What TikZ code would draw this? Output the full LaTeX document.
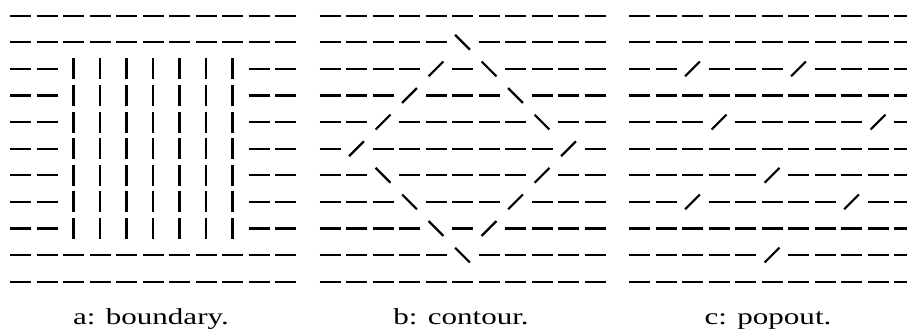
\documentclass[tikz,border=0pt]{standalone}
\usepackage{fontspec}
\setmainfont{Liberation Serif}

% one panel of short bars: #1 = x offset, #2 = rows of bar angles
\newcommand{\texturegrid}[2]{%
  \foreach \cells [count=\r from 0] in {#2} {
    \foreach \ang [count=\c from 0] in \cells {
      \draw[bar, shift={({#1+20.5+26.5*\c},{317.3-26.6*\r})}]
        (180+\ang:10.5) -- (\ang:10.5);
    }
  }}

\begin{document}
\begin{tikzpicture}[x=1pt, y=1pt,
  bar/.style={line width=2.2pt},
  caption/.style={anchor=base, xscale=1.35, font=\fontsize{23}{27}\selectfont}]
\useasboundingbox (0,0) rectangle (907,333);

% a: boundary
\texturegrid{0}{
  {0,0,0,0,0,0,0,0,0,0,0},
  {0,0,0,0,0,0,0,0,0,0,0},
  {0,0,90,90,90,90,90,90,90,0,0},
  {0,0,90,90,90,90,90,90,90,0,0},
  {0,0,90,90,90,90,90,90,90,0,0},
  {0,0,90,90,90,90,90,90,90,0,0},
  {0,0,90,90,90,90,90,90,90,0,0},
  {0,0,90,90,90,90,90,90,90,0,0},
  {0,0,90,90,90,90,90,90,90,0,0},
  {0,0,0,0,0,0,0,0,0,0,0},
  {0,0,0,0,0,0,0,0,0,0,0}}

% b: contour
\texturegrid{309.5}{
  {0,0,0,0,0,0,0,0,0,0,0},
  {0,0,0,0,0,135,0,0,0,0,0},
  {0,0,0,0,45,0,135,0,0,0,0},
  {0,0,0,45,0,0,0,135,0,0,0},
  {0,0,45,0,0,0,0,0,135,0,0},
  {0,45,0,0,0,0,0,0,0,45,0},
  {0,0,135,0,0,0,0,0,45,0,0},
  {0,0,0,135,0,0,0,45,0,0,0},
  {0,0,0,0,135,0,45,0,0,0,0},
  {0,0,0,0,0,135,0,0,0,0,0},
  {0,0,0,0,0,0,0,0,0,0,0}}

% c: popout
\texturegrid{619}{
  {0,0,0,0,0,0,0,0,0,0,0},
  {0,0,0,0,0,0,0,0,0,0,0},
  {0,0,45,0,0,0,45,0,0,0,0},
  {0,0,0,0,0,0,0,0,0,0,0},
  {0,0,0,45,0,0,0,0,0,45,0},
  {0,0,0,0,0,0,0,0,0,0,0},
  {0,0,0,0,0,45,0,0,0,0,0},
  {0,0,45,0,0,0,0,0,45,0,0},
  {0,0,0,0,0,0,0,0,0,0,0},
  {0,0,0,0,0,45,0,0,0,0,0},
  {0,0,0,0,0,0,0,0,0,0,0}}

\node[caption] (capa) at (151,8.7) {a: boundary.};
\node[caption] (capb) at (461,8.7) {b: contour.};
\node[caption] (capc) at (768,8.7) {c: popout.};

\end{tikzpicture}
\end{document}
